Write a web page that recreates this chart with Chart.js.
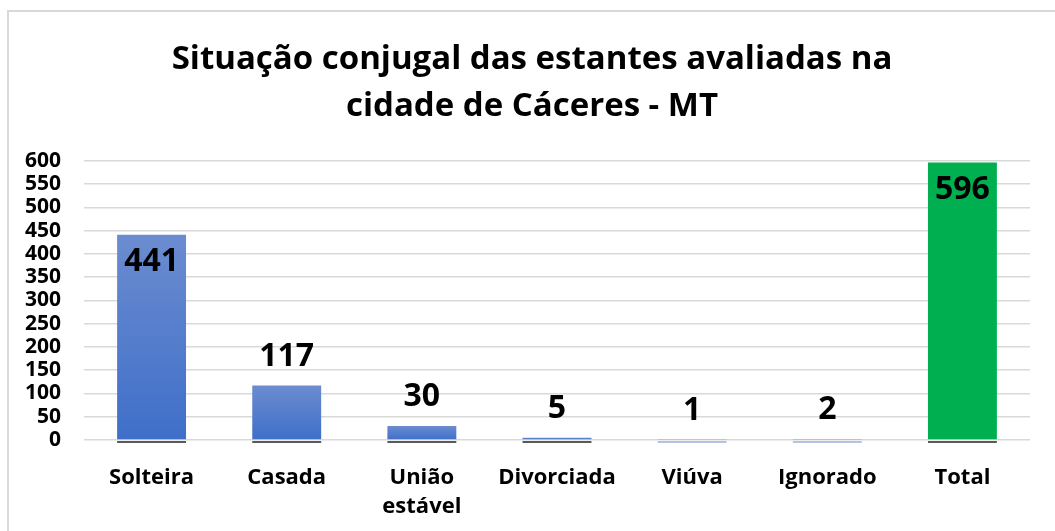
<!DOCTYPE html>
<html lang="pt">
<head>
    <meta charset="UTF-8">
    <title>Situação conjugal</title>
    <script src="https://cdn.jsdelivr.net/npm/chart.js"></script>
    <style>
        html, body {
            margin: 0;
            padding: 0;
            background: #ffffff;
            overflow: hidden;
        }
        #wrap {
            position: absolute;
            left: 0;
            top: 0;
            width: 1055px;
            height: 531px;
        }
        #frame {
            position: absolute;
            left: 7px;
            top: 10px;
            width: 1100px;
            height: 600px;
            border: 2px solid #d9d9d9;
            pointer-events: none;
        }
    </style>
</head>
<body>
<div id="wrap"><canvas id="chart" width="1055" height="531"></canvas></div>
<div id="frame"></div>

<script>
    // Data
    const categories = ['Solteira', 'Casada', ['União', 'estável'], 'Divorciada', 'Viúva', 'Ignorado', 'Total'];
    const counts = [441, 117, 30, 5, 1, 2, 596];
    const yTicks = [0, 50, 100, 150, 200, 250, 300, 350, 400, 450, 500, 550, 600];

    const FONT = "'Open Sans', 'DejaVu Sans', sans-serif";

    function barColor(ctx) {
        if (ctx.dataIndex === counts.length - 1) return '#00b050';
        const chart = ctx.chart;
        const y = chart.scales.y;
        if (!y || !chart.chartArea) return '#4472c4';
        const top = y.getPixelForValue(counts[ctx.dataIndex]);
        const bottom = y.getPixelForValue(0);
        const g = chart.ctx.createLinearGradient(0, top, 0, bottom);
        g.addColorStop(0, '#6b8ccf');
        g.addColorStop(1, '#3f6fc9');
        return g;
    }

    // the title in the original is centred on the whole frame, not the padded box
    const titleShift = {
        id: 'titleShift',
        afterLayout(chart) {
            if (chart.titleBlock) {
                chart.titleBlock.left += 17;
                chart.titleBlock.right += 17;
            }
        }
    };

    // value labels + small shadow under each bar
    const valueLabels = {
        id: 'valueLabels',
        afterDatasetsDraw(chart) {
            const ctx = chart.ctx;
            const meta = chart.getDatasetMeta(0);
            const base = chart.scales.y.getPixelForValue(0);
            ctx.save();
            meta.data.forEach((bar, i) => {
                ctx.fillStyle = counts[i] >= 5 ? '#5a5a5a' : '#b4c3e3';
                ctx.fillRect(bar.x - bar.width / 2, base + 1, bar.width, 2);
            });
            ctx.font = 'bold 32px ' + FONT;
            ctx.fillStyle = '#000000';
            ctx.textAlign = 'center';
            ctx.textBaseline = 'middle';
            meta.data.forEach((bar, i) => {
                const inside = counts[i] > 400;
                const y = inside ? bar.y + 27 : bar.y - 29;
                ctx.fillText(String(counts[i]), bar.x, y);
            });
            ctx.restore();
        }
    };

    new Chart(document.getElementById('chart').getContext('2d'), {
        type: 'bar',
        data: {
            labels: categories,
            datasets: [{
                data: counts,
                backgroundColor: barColor,
                borderWidth: 0,
                categoryPercentage: 1,
                barPercentage: 0.51
            }]
        },
        options: {
            responsive: false,
            animation: false,
            layout: { padding: { left: 0, right: 25, top: 0, bottom: 0 } },
            plugins: {
                legend: { display: false },
                tooltip: { enabled: false },
                title: {
                    display: true,
                    text: ['Situação conjugal das estantes avaliadas na', 'cidade de Cáceres - MT'],
                    color: '#000000',
                    font: { family: FONT, size: 33, weight: 'bold', lineHeight: 1.42 },
                    padding: { top: 36, bottom: 31 }
                }
            },
            scales: {
                x: {
                    grid: { display: false, drawTicks: false },
                    border: { display: false },
                    ticks: {
                        color: '#000000',
                        padding: 23,
                        maxRotation: 0,
                        autoSkip: false,
                        font: { family: FONT, size: 22, weight: 'bold', lineHeight: 1.32 }
                    },
                    afterFit(scale) { scale.height = 91; }
                },
                y: {
                    min: 0,
                    max: 600,
                    afterBuildTicks(scale) { scale.ticks = yTicks.map(v => ({ value: v })); },
                    grid: { color: '#d9d9d9', lineWidth: 1.5, drawTicks: false },
                    border: { display: false },
                    ticks: {
                        color: '#000000',
                        padding: 23,
                        autoSkip: false,
                        font: { family: FONT, size: 21, weight: 'bold' }
                    },
                    afterFit(scale) { scale.width = 84; }
                }
            }
        },
        plugins: [titleShift, valueLabels]
    });
</script>
</body>
</html>
